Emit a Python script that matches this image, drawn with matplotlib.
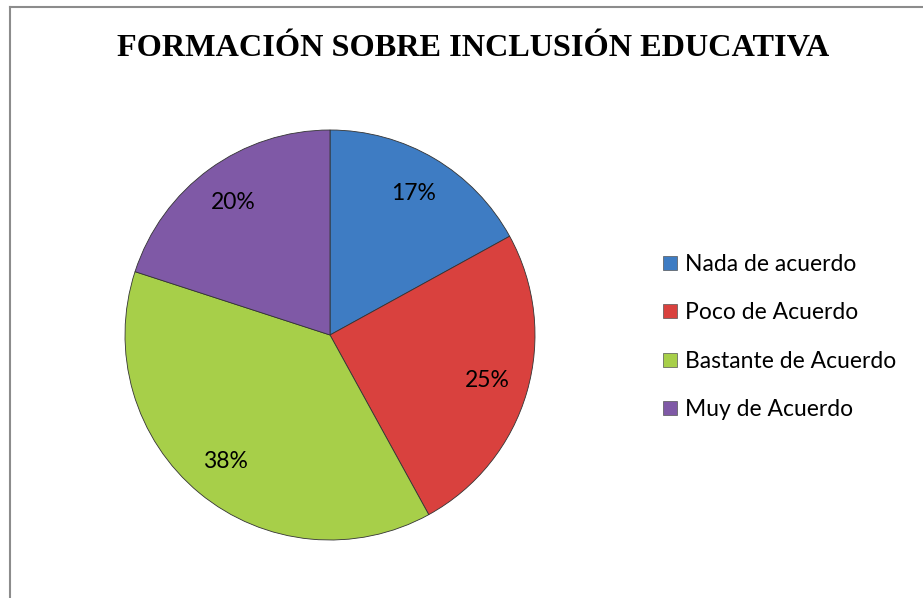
import matplotlib.pyplot as plt
from matplotlib.lines import Line2D

# data
labels = ['Nada de acuerdo', 'Poco de Acuerdo', 'Bastante de Acuerdo', 'Muy de Acuerdo']
values = [17, 25, 38, 20]
colors = ['#3E7CC3', '#D9413E', '#A7CF49', '#7F59A6']

fig = plt.figure(figsize=(9.23, 5.98), dpi=100)

# chart border (top + left visible)
fig.add_artist(Line2D([9.5/923, 9.5/923], [0, 1 - 7/598], color='#8c8c8c', lw=1.5))
fig.add_artist(Line2D([9.5/923, 1], [1 - 7/598, 1 - 7/598], color='#8c8c8c', lw=1.5))

fig.text(473/923, 1 - 48/598, 'FORMACIÓN SOBRE INCLUSIÓN EDUCATIVA',
         ha='center', va='center', fontsize=23.2, fontweight='bold',
         family='Liberation Serif')

# pie axes, centre ~ (330, 335) px, radius ~ 205 px
cx, cy, r = 330/923, 1 - 335/598, 205
ax = fig.add_axes([cx - r/923, cy - r/598, 2*r/923, 2*r/598])
wedges, texts, autotexts = ax.pie(values, colors=colors, startangle=90, counterclock=False,
                                  autopct='%1.0f%%', pctdistance=0.8, radius=1,
                                  wedgeprops=dict(edgecolor='#333333', linewidth=0.6),
                                  textprops=dict(fontsize=16.5, family='Lato'))
ax.set_xlim(-1, 1)
ax.set_ylim(-1, 1)
ax.set_aspect('equal')
ax.axis('off')

handles = [Line2D([], [], marker='s', ls='', markersize=10.5, markerfacecolor=c,
                  markeredgecolor='#555555', markeredgewidth=0.5) for c in colors]
fig.legend(handles, labels, loc='center left', bbox_to_anchor=(640/923, 1 - 337/598),
           frameon=False, prop=dict(family='Lato', size=16.5), handlelength=0.8,
           handletextpad=0.25, labelspacing=1.18)

fig.savefig('out.png', dpi=100)
